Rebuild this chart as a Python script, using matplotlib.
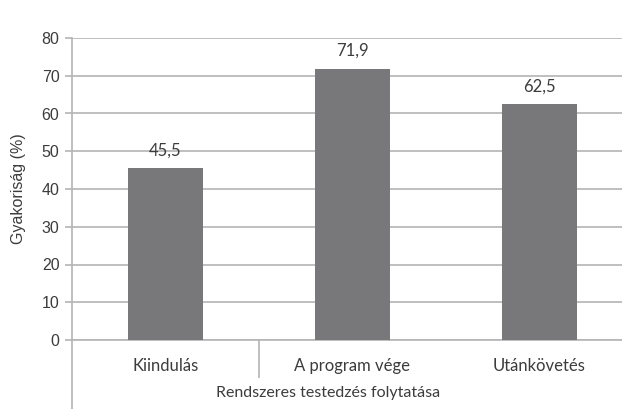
import matplotlib
matplotlib.use('Agg')
import matplotlib.pyplot as plt

categories = ['Kiindulás', 'A program vége', 'Utánkövetés']
values = [45.5, 71.9, 62.5]
value_labels = ['45,5', '71,9', '62,5']
yticks = [0, 10, 20, 30, 40, 50, 60, 70, 80]

W, H = 622, 409
fig = plt.figure(figsize=(W / 100, H / 100), dpi=100)
# axes runs past the right edge, the original picture is cropped there
ax = fig.add_axes([72 / W, 1 - 340 / H, (633 - 72) / W, (340 - 38) / H])

bar_col = '#78787b'
grid_col = '#b4b4b4'
txt_col = '#3c3c3c'

x = range(len(categories))
ax.bar(x, values, width=0.4, color=bar_col, zorder=3)
for i, v in enumerate(values):
    ax.annotate(value_labels[i], (i, v), xytext=(0, 7), textcoords='offset points',
                ha='center', va='bottom', fontsize=12, color=txt_col, family='Lato')

ax.set_xlim(-0.5, 2.5)
ax.set_ylim(0, 80)
ax.set_yticks(yticks)
ax.set_yticklabels([str(t) for t in yticks], family='Liberation Sans', fontsize=11.5, color=txt_col)
ax.yaxis.grid(True, color=grid_col, linewidth=1.2, zorder=0)
ax.tick_params(axis='y', length=5, color=grid_col, width=1.2, pad=4)

ax.set_xticks(list(x))
ax.set_xticklabels(categories, family='Lato', fontsize=12, color=txt_col)
ax.tick_params(axis='x', which='major', length=0, pad=13)
# separator only between first and second group
ax.set_xticks([0.5], minor=True)
ax.tick_params(axis='x', which='minor', length=27, color=grid_col, width=1.2)

for s in ['top', 'right']:
    ax.spines[s].set_visible(False)
ax.spines['bottom'].set_color(grid_col)
ax.spines['bottom'].set_linewidth(1.2)
ax.spines['left'].set_color(grid_col)
ax.spines['left'].set_linewidth(1.2)
ax.spines['left'].set_bounds(-20, 80)

ax.set_ylabel('Gyakoriság (%)', family='Liberation Sans', fontsize=11.5, color=txt_col)
ax.yaxis.set_label_coords(-(72 - 26) / (633 - 72), 0.5)
ax.set_xlabel('Rendszeres testedzés folytatása', family='Lato', fontsize=11.5, color=txt_col)
ax.xaxis.set_label_coords((328 - 72) / (633 - 72), -(393 - 340) / (340 - 38))
ax.xaxis.label.set_va('center')

fig.savefig('out.png', dpi=100)
